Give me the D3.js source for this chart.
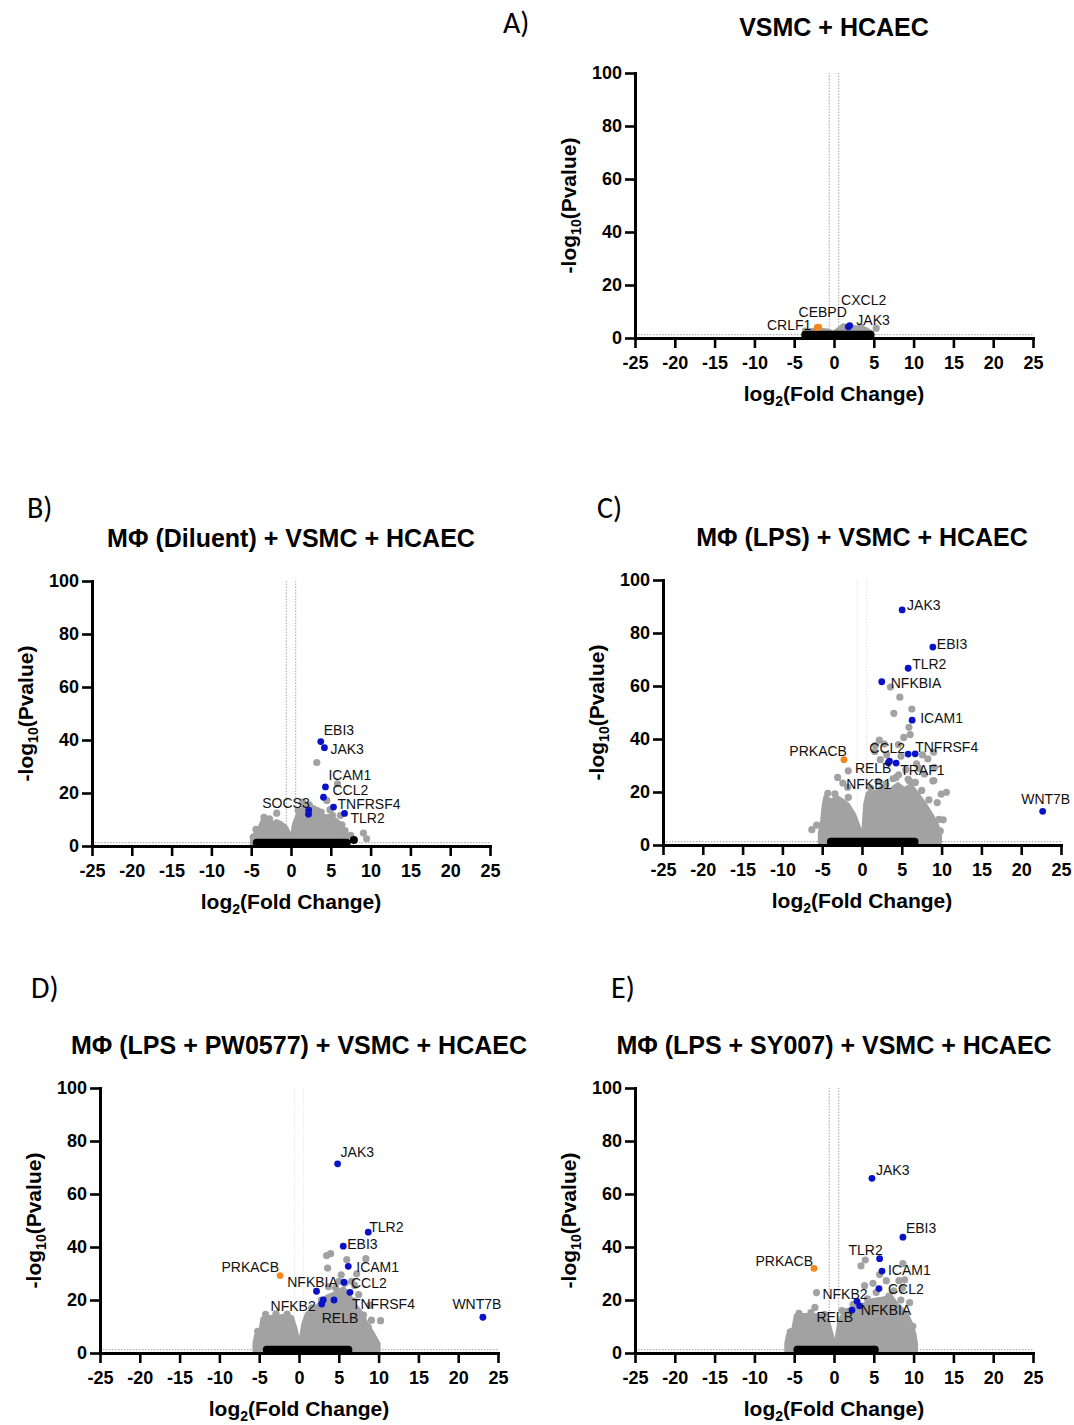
<!DOCTYPE html>
<html>
<head>
<meta charset="utf-8">
<script src="https://cdn.jsdelivr.net/npm/d3@7"></script>
<style>
  body { margin: 0; background: #fff; }
  svg text { font-family: "Liberation Sans", Arial, sans-serif; fill: #000; }
</style>
</head>
<body>
<svg id="fig" width="1074" height="1425"></svg>
<script>
// axis ticks shared by all five volcano plots
var xTicks = [-25, -20, -15, -10, -5, 0, 5, 10, 15, 20, 25];
var yTicks = [0, 20, 40, 60, 80, 100];
var fcCut = 0.585, pCut = 1.3;

// ---- A) VSMC + HCAEC
// hull = outline of the dense grey cloud [log2FC, -log10P]
var hullA = [[-3.9,0.3],[-3.8,2.2],[-3.0,3.0],[-2.0,3.1],[-1.0,2.9],[-0.4,2.5],[-0.1,1.4],[0.2,2.6],[0.8,3.9],[2.0,4.3],[3.0,4.0],[4.0,3.4],[4.7,2.2],[4.8,0.3]];
var grayA = [[5.3,3.7],[-3.6,2.6],[1.2,4.2],[3.4,4.1]];
var bandA = [-3.6, 4.6];
var blackA = [];
var genesA = [["CRLF1",-2.1,4.0],["CEBPD",-1.93,4.1],["CXCL2",1.97,4.7],["JAK3",1.8,4.2]];

// ---- B) MΦ (Diluent)
var hullB = [[-4.9,0.5],[-4.9,3.3],[-4.0,6.5],[-3.6,9.5],[-3.1,10.0],[-2.3,8.6],[-1.8,9.4],[-1.2,8.6],[-0.6,7.0],[-0.2,4.5],[0.1,3.5],[0.4,8.5],[0.8,11.5],[1.3,13.0],[1.9,13.2],[2.6,12.3],[3.2,12.6],[4.0,11.2],[4.8,11.3],[5.5,10],[6.2,8.5],[6.6,6.5],[6.9,4.5],[7.1,1.5],[7.1,0.5]];
var grayB = [[3.24,31.5],[5.84,23.5],[4.5,17.2],[4.9,13.7],[3.3,13.4],[1.47,16.6],[-1.8,12.4],[6.2,11.5],[9.1,4.9],[9.5,2.7],[6.8,5.8],[-4.75,3.3],[2.3,15.5],[5.6,9.0],[6.4,8.0],[7.5,4.0],
  [-3.4,10.8],[-2.7,10.2],[0.9,13.4],[1.7,14.4],[2.8,14.1],[3.8,12.8],[5.2,11.6],[-4.4,6.3]];
var bandB = [-4.3, 7.0];
var blackB = [[7.9,2.3]];
var genesB = [["EBI3",3.74,39.4],["JAK3",4.2,37.1],["ICAM1",4.33,22.3],["CCL2",4.08,18.4],["TNFRSF4",5.34,14.7],["TLR2",6.72,12.3],["SOCS3",2.23,13.5],["",2.2,12.0]];

// ---- C) MΦ (LPS)
var hullC = [[-5.3,0.5],[-5.3,4.5],[-5.0,9.5],[-4.8,15.4],[-4.6,18.2],[-3.9,16.7],[-3.1,18],[-2.4,16.7],[-1.8,15.4],[-1,11.6],[-0.3,6],[0,2.8],[0.2,6.6],[0.4,15.4],[0.7,19.5],[1.55,19.9],[2.4,21.8],[3.45,20.5],[4.5,23],[5.3,21.1],[6.2,22.4],[7,19.2],[7.9,15.4],[8.7,11.6],[9.3,8.5],[9.8,4.7],[9.8,0.9]];
var grayC = [[3.57,59.6],[4.75,55.8],[6.26,51.3],[4.0,49.7],[5.9,44.4],[5.25,40.6],[6.05,41.7],[2.18,39.6],[2.8,38.1],[4.57,37.9],[1.7,37.6],[8.27,32.5],[9.1,29.3],[-1.73,28],[-3.06,25.5],[7.85,26.8],[8.9,24.2],[4.28,25.5],[6.0,24],[9.95,19.2],[-2.4,23.4],[10.6,19.9],[9.03,24.3],[9.0,35],[7.6,34],[6.85,30.6],[9.45,16],[9.66,9.7],[9.83,5.3],[-6.3,5.8],[-1.72,18],[-1.8,21.8],[1.6,35.3],[2.3,32.2],[3.1,34.1],[4.9,33.5],[5.5,28.4],[4.6,26.5],[7.2,28.9],
  [-5.7,7.5],[-4.3,19.5],[-3.4,19.3],[1.1,21.5],[2.0,24.0],[3.0,23.0],[3.9,25.0],[5.8,24.8],[6.7,23.6],[7.5,20.6],[8.4,17.0],[10.2,9.5]];
var bandC = [-3.9, 6.6];
var blackC = [];
var genesC = [["JAK3",5.04,88.7],["EBI3",8.9,74.7],["TLR2",5.8,66.7],["NFKBIA",2.48,61.6],["ICAM1",6.3,47.1],["CCL2",5.8,34.3],["TNFRSF4",6.68,34.4],["NFKB1",3.3,31.0],["RELB",3.45,31.6],["TRAF1",4.29,30.9],["WNT7B",22.7,12.7],["PRKACB",-2.27,32.2]];

// ---- D) MΦ (LPS + PW0577)
var hullD = [[-5.6,0.5],[-5.6,3.5],[-5.4,6.7],[-4.8,9.2],[-4.6,13.0],[-3.6,13.6],[-2,14.0],[-0.9,13.6],[-0.5,9.9],[-0.1,4.8],[0.2,4.8],[0.55,11.1],[1,14.9],[2.2,17.5],[3.5,21.3],[4.5,22.5],[5.6,24.4],[6.4,21.3],[7.2,17.5],[7.9,14.9],[8.5,11.1],[9.3,7.3],[10,3.5],[10,0.8]];
var grayD = [[3.47,36.8],[3.97,37.5],[3.6,32],[6.0,35.2],[8.4,35.6],[7.24,29.9],[5.77,26.3],[8.9,18.1],[8.1,14.3],[9.1,12.4],[10.25,12.2],[3.7,25],[5.0,27],[6.6,27],[7.5,22],[4.6,24.5],[7.0,25.5],[5.3,29.5],
  [-4.2,14.6],[-2.9,14.8],[-1.5,14.7],[1.6,17.0],[2.8,20.0],[6.9,19.6],[8.7,9.8],[-5.2,8.2]];
var bandD = [-4.05, 6.2];
var blackD = [];
var genesD = [["JAK3",4.85,71.4],["TLR2",8.7,45.6],["EBI3",5.56,40.3],["ICAM1",6.19,32.7],["CCL2",5.65,26.7],["TNFRSF4",6.4,22.9],["NFKBIA",2.2,23.3],["NFKB2",2.85,18.5],["RELB",4.4,20],["",3.05,20.0],["PRKACB",-2.38,29.2],["WNT7B",23.1,13.5]];

// ---- E) MΦ (LPS + SY007)
var hullE = [[-6,0.5],[-6,3.5],[-5.8,6.7],[-5.1,9.2],[-4.8,14.2],[-3.5,14.3],[-1.8,14.2],[-0.75,12.0],[-0.1,4.8],[0.3,4.8],[0.7,12.4],[1.55,16.2],[3.2,17.5],[4.9,20],[6.15,20.6],[7.2,21.3],[7.8,18.7],[9.1,14.9],[9.7,11.1],[10.1,7.3],[10.3,3.5],[10.3,0.8]];
var grayE = [[3.93,35.1],[3.39,32.9],[8.66,33.7],[5.73,29.6],[3.85,25.4],[6.57,27.3],[8.16,27.3],[5.3,22.9],[6.9,21.5],[9.5,19],[9.1,12.2],[9.9,10.1],[-2.2,22.8],[-2.4,17.2],[8.87,27.6],[8.6,24.4],[4.9,26.3],[7.5,23.5],
  [-4.4,15.0],[-2.9,15.2],[-1.2,14.6],[1.0,16.0],[2.4,18.4],[4.2,20.4],[8.4,20.0],[-5.5,8.0]];
var bandE = [-4.5, 5.1];
var blackE = [[-4.6,1.2],[5.1,1.2]];
var genesE = [["JAK3",4.77,65.9],["EBI3",8.66,43.7],["TLR2",5.73,35.6],["ICAM1",6.03,30.9],["CCL2",5.65,24.3],["NFKB2",2.89,19.5],["NFKBIA",3.22,17.8],["RELB",2.26,16.2],["PRKACB",-2.51,31.9]];

// label placement (anchor, dx, dy in px from the dot)
var labA = {CRLF1:["end",-6,3], CEBPD:["middle",4,-10], CXCL2:["middle",14,-21], JAK3:["start",8,-2]};
var labB = {EBI3:["start",3,-7], JAK3:["start",6,6], ICAM1:["start",3,-7], CCL2:["start",9,-2], TNFRSF4:["start",4,2], TLR2:["start",6,10], SOCS3:["end",1,-2]};
var labC = {JAK3:["start",5,0], EBI3:["start",4,2], TLR2:["start",4,1], NFKBIA:["start",9,6], ICAM1:["start",8,3], CCL2:["end",-3,-1], TNFRSF4:["start",0,-2], RELB:["end",2,12], NFKB1:["end",3,26], TRAF1:["start",4,12], WNT7B:["middle",3,-7], PRKACB:["end",3,-4]};
var labD = {JAK3:["start",3,-7], TLR2:["start",1,0], EBI3:["start",4,3], ICAM1:["start",8,6], CCL2:["start",7,6], TNFRSF4:["start",2,17], NFKBIA:["middle",-4,-4], NFKB2:["end",-6,7], RELB:["middle",6,23], PRKACB:["end",-1,-4], WNT7B:["middle",-6,-8]};
var labE = {JAK3:["start",4,-3], EBI3:["start",3,-4], TLR2:["middle",-14,-4], ICAM1:["start",6,4], CCL2:["start",9,5], NFKB2:["middle",-12,-2], NFKBIA:["start",1,9], RELB:["end",1,12], PRKACB:["end",-1,-2]};

var panels = [
  {letter:"A)", title:"VSMC + HCAEC", left:635, top:73, lx:503, ly:33, ty:36, faint:false,
   hull:hullA, gray:grayA, band:bandA, black:blackA, genes:genesA, lab:labA},
  {letter:"B)", title:"M\u03A6 (Diluent) + VSMC + HCAEC", left:92, top:581, lx:27, ly:518, ty:547, faint:false,
   hull:hullB, gray:grayB, band:bandB, black:blackB, genes:genesB, lab:labB},
  {letter:"C)", title:"M\u03A6 (LPS) + VSMC + HCAEC", left:663, top:580, lx:597, ly:518, ty:546, faint:true,
   hull:hullC, gray:grayC, band:bandC, black:blackC, genes:genesC, lab:labC},
  {letter:"D)", title:"M\u03A6 (LPS + PW0577) + VSMC + HCAEC", left:100, top:1088, lx:31, ly:998, ty:1054, faint:true,
   hull:hullD, gray:grayD, band:bandD, black:blackD, genes:genesD, lab:labD},
  {letter:"E)", title:"M\u03A6 (LPS + SY007) + VSMC + HCAEC", left:635, top:1088, lx:611, ly:998, ty:1054, faint:false,
   hull:hullE, gray:grayE, band:bandE, black:blackE, genes:genesE, lab:labE}
];

var W = 398, H = 265;
var GREY = '#a2a2a2', BLUE = '#0a12c8', ORANGE = '#f5861f';
var svg = d3.select('#fig');
var plain = function(d) { return String(d); };   // hyphen minus like the original

panels.forEach(function(p) {
  var x = d3.scaleLinear().domain([-25, 25]).range([0, W]);
  var y = d3.scaleLinear().domain([0, 100]).range([H, 0]);

  svg.append('text')
    .attr('x', p.lx).attr('y', p.ly)
    .style('font-family', 'Carlito, "Liberation Sans Narrow", "Open Sans", sans-serif')
    .style('font-size', '30px')
    .text(p.letter);

  svg.append('text')
    .attr('x', p.left + W / 2).attr('y', p.ty)
    .attr('text-anchor', 'middle')
    .style('font-size', '25px').style('font-weight', 'bold')
    .text(p.title);

  var g = svg.append('g').attr('transform', 'translate(' + p.left + ',' + p.top + ')');

  // cut-off lines
  g.selectAll('.vcut').data([-fcCut, fcCut]).enter().append('line')
    .attr('x1', function(d) { return x(d); })
    .attr('x2', function(d) { return x(d); })
    .attr('y1', y(0)).attr('y2', y(100))
    .attr('stroke', p.faint ? '#e8e8e8' : '#b4b4b4')
    .attr('stroke-width', 1.2)
    .attr('stroke-dasharray', '1.5,1.5');
  g.append('line')
    .attr('x1', x(-25)).attr('x2', x(25))
    .attr('y1', y(pCut)).attr('y2', y(pCut))
    .attr('stroke', '#b4b4b4').attr('stroke-width', 1.2)
    .attr('stroke-dasharray', '1.5,1.5');

  // dense grey cloud
  var line = d3.line()
    .x(function(d) { return x(d[0]); })
    .y(function(d) { return y(d[1]); })
    .curve(d3.curveLinearClosed);
  g.append('path').datum(p.hull)
    .attr('d', line)
    .attr('fill', GREY).attr('stroke', GREY)
    .attr('stroke-width', 4).attr('stroke-linejoin', 'round');

  g.selectAll('.gp').data(p.gray).enter().append('circle')
    .attr('cx', function(d) { return x(d[0]); })
    .attr('cy', function(d) { return y(d[1]); })
    .attr('r', 3.6).attr('fill', GREY);

  // non-significant band
  g.append('line')
    .attr('x1', x(p.band[0])).attr('x2', x(p.band[1]))
    .attr('y1', y(1.2)).attr('y2', y(1.2))
    .attr('stroke', '#000').attr('stroke-width', 8)
    .attr('stroke-linecap', 'round');
  g.selectAll('.bp').data(p.black).enter().append('circle')
    .attr('cx', function(d) { return x(d[0]); })
    .attr('cy', function(d) { return y(d[1]); })
    .attr('r', 4).attr('fill', '#000');

  // highlighted genes
  g.selectAll('.gene').data(p.genes).enter().append('circle')
    .attr('cx', function(d) { return x(d[1]); })
    .attr('cy', function(d) { return y(d[2]); })
    .attr('r', 3.4)
    .attr('fill', function(d) { return d[1] < 0 ? ORANGE : BLUE; });

  g.selectAll('.glab').data(p.genes.filter(function(d) { return p.lab[d[0]]; }))
    .enter().append('text')
    .attr('x', function(d) { return x(d[1]) + p.lab[d[0]][1]; })
    .attr('y', function(d) { return y(d[2]) + p.lab[d[0]][2]; })
    .attr('text-anchor', function(d) { return p.lab[d[0]][0]; })
    .style('font-size', '14px').style('fill', '#111')
    .text(function(d) { return d[0]; });

  // axes
  var xa = g.append('g').attr('transform', 'translate(0,' + H + ')')
    .call(d3.axisBottom(x).tickValues(xTicks).tickFormat(plain).tickSize(10).tickSizeOuter(0).tickPadding(8));
  var ya = g.append('g')
    .call(d3.axisLeft(y).tickValues(yTicks).tickFormat(plain).tickSize(10).tickSizeOuter(0).tickPadding(3));
  [xa, ya].forEach(function(a) {
    a.select('.domain').attr('stroke-width', 3).attr('stroke-linecap', 'square');
    a.selectAll('.tick line').attr('stroke-width', 2.6);
    a.selectAll('.tick text')
      .style('font-size', '18px').style('font-weight', 'bold')
      .style('font-family', '"Liberation Sans", Arial, sans-serif').attr('fill', '#000');
  });

  var xt = g.append('text')
    .attr('x', W / 2).attr('y', H + 63)
    .attr('text-anchor', 'middle')
    .style('font-size', '21px').style('font-weight', 'bold');
  xt.append('tspan').text('log');
  xt.append('tspan').attr('dy', 5).style('font-size', '14px').text('2');
  xt.append('tspan').attr('dy', -5).text('(Fold Change)');

  var yt = g.append('text')
    .attr('transform', 'translate(-59,' + (H / 2) + ') rotate(-90)')
    .attr('text-anchor', 'middle')
    .style('font-size', '21px').style('font-weight', 'bold');
  yt.append('tspan').text('-log');
  yt.append('tspan').attr('dy', 5).style('font-size', '14px').text('10');
  yt.append('tspan').attr('dy', -5).text('(Pvalue)');
});
</script>
</body>
</html>
